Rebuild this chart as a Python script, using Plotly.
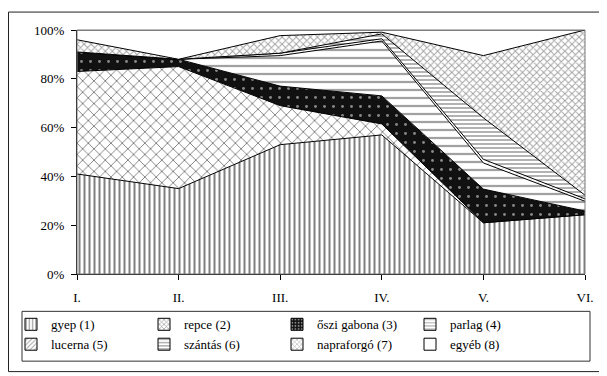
import plotly.graph_objects as go

# ---- data (percent of area, stacked bottom -> top) ----
categories = ["I.", "II.", "III.", "IV.", "V.", "VI."]
series_names = ["gyep (1)", "repce (2)", "őszi gabona (3)", "parlag (4)",
                "lucerna (5)", "szántás (6)", "napraforgó (7)", "egyéb (8)"]
gyep = [41, 35, 53, 57, 21, 24.3]
repce = [42, 50, 16, 4.5, 0, 0]
oszi_gabona = [8, 3, 8, 11.5, 13.8, 1.5]
parlag = [0, 0, 12.5, 22.5, 10.7, 4]
lucerna = [0, 0, 1, 0.9, 1.5, 1]
szantas = [0, 0, 0, 2, 17, 1.5]
napraforgo = [5, 0, 7.2, 0.7, 25.5, 67.7]
egyeb = [4, 12, 2.3, 0.9, 10.5, 0]
y_ticks = [0, 20, 40, 60, 80, 100]
y_tick_labels = [f"{v}%" for v in y_ticks]

values = [gyep, repce, oszi_gabona, parlag, lucerna, szantas, napraforgo, egyeb]

# ---- styles (patterns approximating the original hatching) ----
styles = [
    dict(shape="|", fgcolor="black", bgcolor="white", size=5, solidity=0.4),
    dict(shape="x", fgcolor="black", bgcolor="white", size=8, solidity=0.22),
    dict(shape=".", fgcolor="white", bgcolor="#111", size=9, solidity=0.08),
    dict(shape="-", fgcolor="#444", bgcolor="white", size=8, solidity=0.28),
    dict(shape="/", fgcolor="#444", bgcolor="white", size=7, solidity=0.1),
    dict(shape="-", fgcolor="black", bgcolor="white", size=4, solidity=0.3),
    dict(shape="x", fgcolor="#444", bgcolor="white", size=5, solidity=0.35),
    dict(shape="", fgcolor="black", bgcolor="white", size=6, solidity=0.1),
]

FONT = "Liberation Serif, Times New Roman, serif"

fig = go.Figure()
for name, vals, st in zip(series_names, values, styles):
    fig.add_trace(go.Scatter(
        x=categories, y=vals, name=name, mode="lines",
        stackgroup="one", legendgroup=name, showlegend=False,
        line=dict(color="black", width=1),
        fillcolor=st["bgcolor"],
        fillpattern=dict(st) if st["shape"] else None,
        hoverinfo="skip",
    ))

# legend entries (square swatches like the original)
for name, st in zip(series_names, styles):
    pat = dict(shape=st["shape"], fgcolor=st["fgcolor"], bgcolor=st["bgcolor"],
               size=4, solidity=0.3) if st["shape"] else None
    fig.add_trace(go.Bar(
        x=[None], y=[None], name=name, legendgroup=name, showlegend=True,
        marker=dict(color=st["bgcolor"], pattern=pat,
                    line=dict(color="black", width=1)),
    ))

# page body has an 8px margin: the figure is laid out 8px smaller / shifted
OFF = 8
FIG_W, FIG_H = 607 - OFF, 376 - OFF
L, T, W, H = 77, 29.5, 508, 245   # plot area in window pixels


def px(xp):
    return (xp - L) / W


def py(yp):
    return (T + H - yp) / H


fig.update_layout(
    width=FIG_W, height=FIG_H,
    margin=dict(l=L - OFF, r=FIG_W - (L - OFF) - W, t=T - OFF,
                b=FIG_H - (T - OFF) - H, autoexpand=False),
    paper_bgcolor="white", plot_bgcolor="white",
    font=dict(family=FONT, size=13, color="black"),
    showlegend=True,
    legend=dict(
        orientation="h", x=px(11), xanchor="left", y=py(310), yanchor="top",
        entrywidth=88, entrywidthmode="pixels", traceorder="normal",
        font=dict(family=FONT, size=13, color="black"),
        bgcolor="rgba(0,0,0,0)", borderwidth=0,
    ),
    xaxis=dict(
        type="category", categoryorder="array", categoryarray=categories,
        range=[0, len(categories) - 1], showgrid=False,
        showline=True, linecolor="black", linewidth=1,
        ticks="outside", ticklen=5, tickcolor="black", tickwidth=1,
        ticklabelstandoff=6, tickfont=dict(family=FONT, size=13),
    ),
    yaxis=dict(
        range=[0, 100], tickmode="array", tickvals=y_ticks, ticktext=y_tick_labels,
        showgrid=False,
        showline=True, linecolor="black", linewidth=1,
        ticks="outside", ticklen=5, tickcolor="black", tickwidth=1,
        ticklabelstandoff=4, tickfont=dict(family=FONT, size=13),
        zeroline=False,
    ),
    shapes=[
        dict(type="rect", xref="paper", yref="paper", x0=0, x1=1, y0=0, y1=1,
             line=dict(color="#7a7a7a", width=1), layer="above"),
        # outer chart frame
        dict(type="rect", xref="paper", yref="paper",
             x0=px(8.5), x1=px(602.5), y0=py(372.5), y1=py(11.5),
             line=dict(color="#222", width=1)),
        # legend box
        dict(type="rect", xref="paper", yref="paper",
             x0=px(22), x1=px(590), y0=py(362), y1=py(312),
             line=dict(color="#333", width=1)),
    ],
)

fig.write_html("out.html")
